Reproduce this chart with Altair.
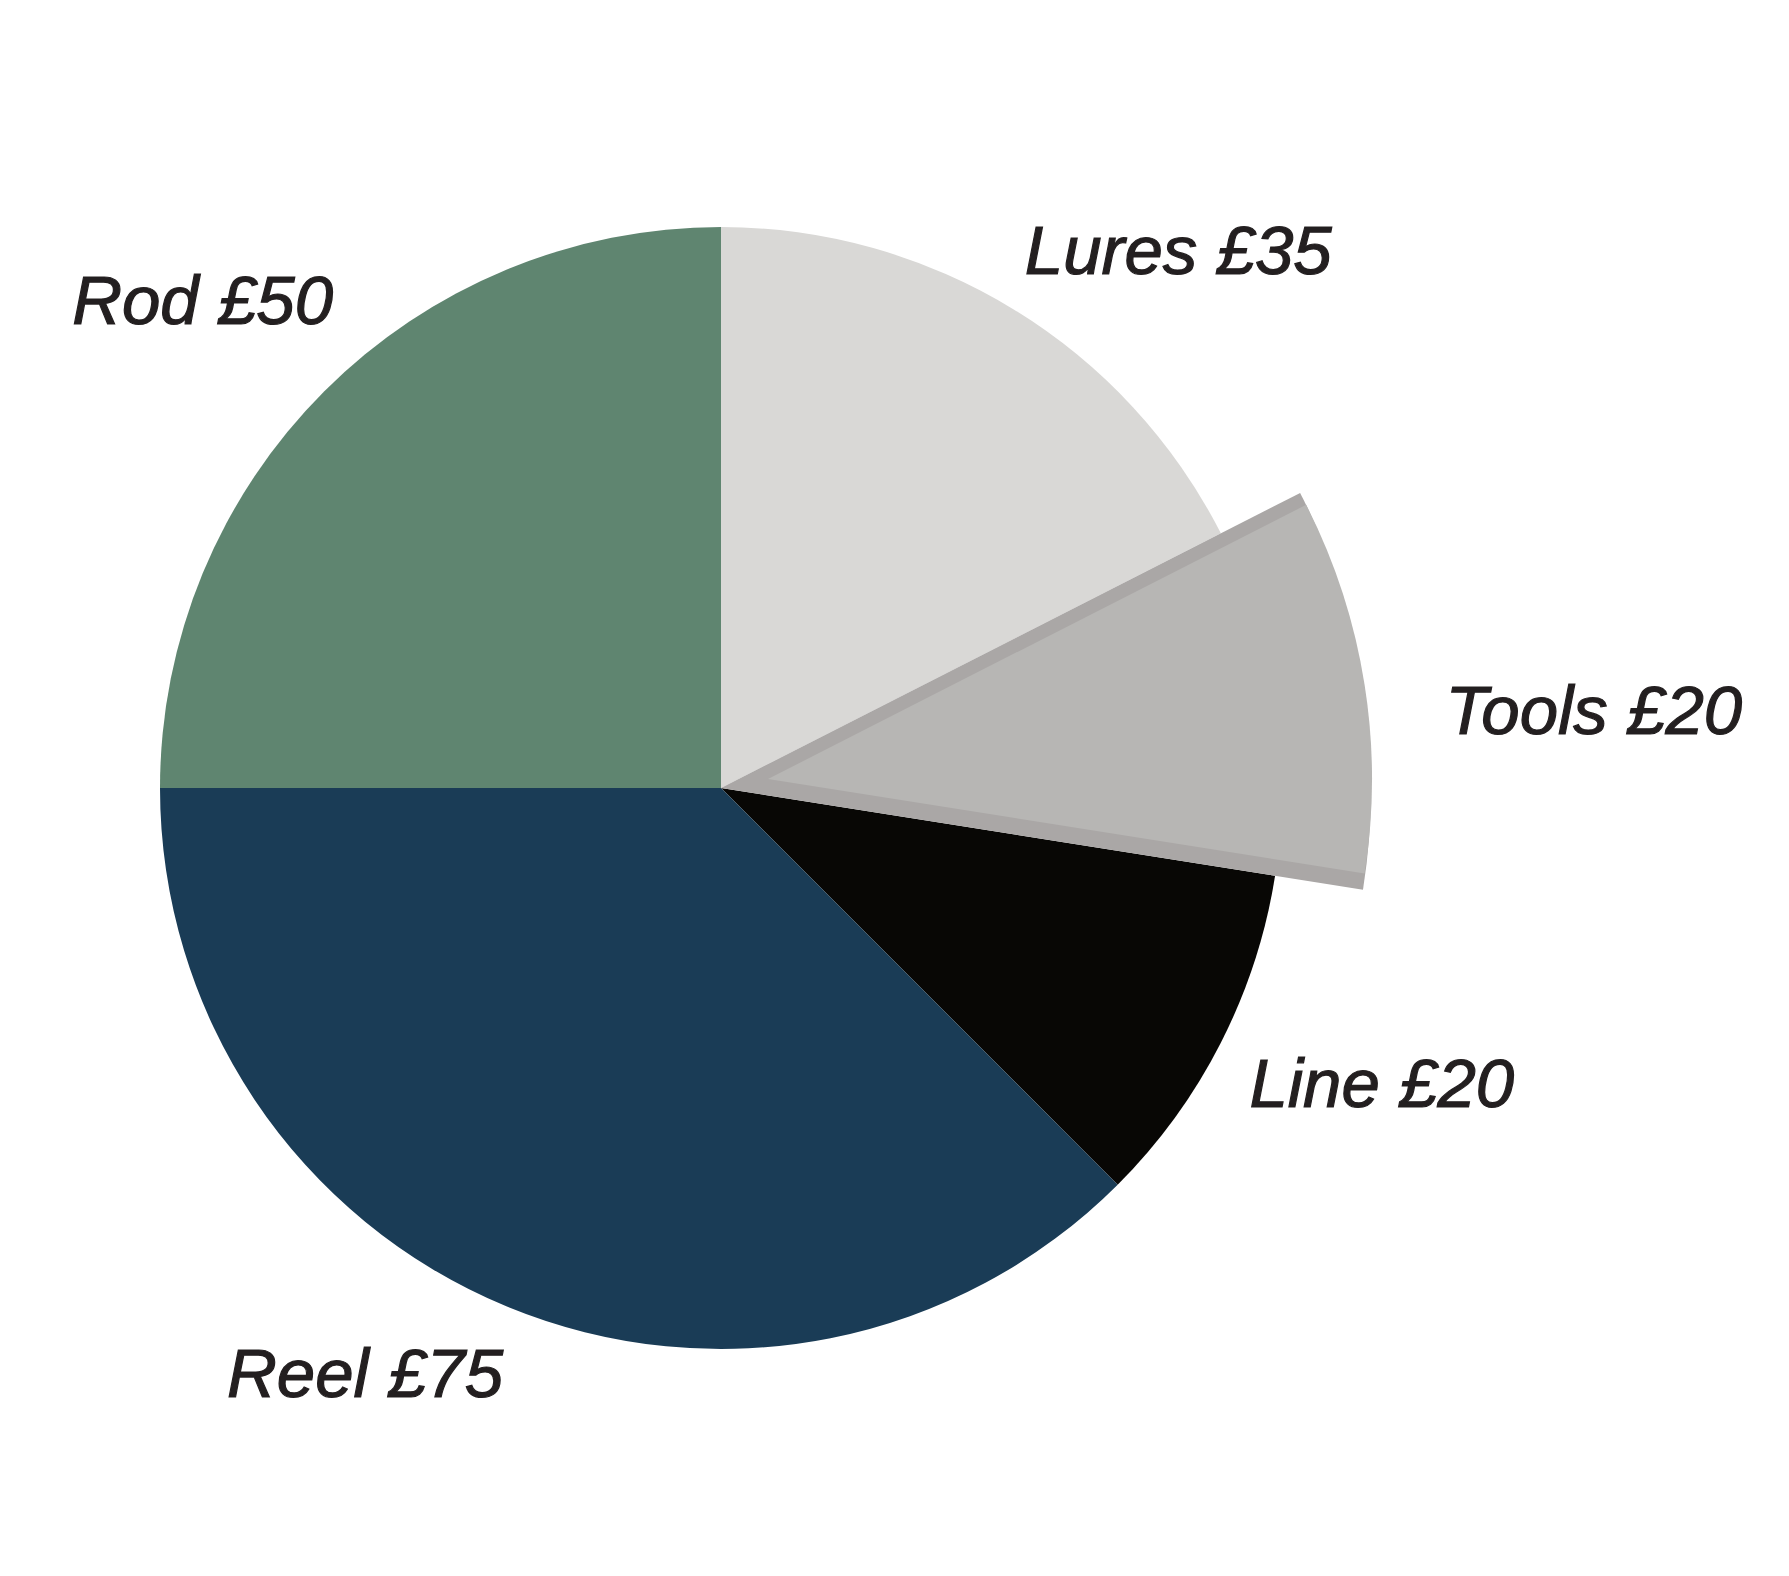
import altair as alt
import pandas as pd

categories = ["Lures", "Tools", "Line", "Reel", "Rod"]
values = [35, 20, 20, 75, 50]
labels = ["Lures £35", "Tools £20", "Line £20", "Reel £75", "Rod £50"]
colors = ["#d9d8d6", "#b7b6b4", "#080705", "#1a3c56", "#5f8570"]

df = pd.DataFrame({"category": categories, "value": values, "label": labels,
                   "order": list(range(len(categories)))})

CX, CY = 713, 780
R = 561
SHADOW_R = 650
EXPLODE_R = 604
EXPLODE_DX, EXPLODE_DY = 47, -9

# label placement (radius, angle nudge in degrees)
LABEL_POS = {"Lures": (704, 9.0), "Tools": (876, 4.1), "Line": (725, -2.7),
             "Reel": (687, 8.7), "Rod": (710, -1.9)}

rad_expr = "{" + ",".join(f"'{k}':{v[0]}" for k, v in LABEL_POS.items()) + "}"
nud_expr = "{" + ",".join(f"'{k}':{v[1]}" for k, v in LABEL_POS.items()) + "}"

base = (
    alt.Chart(df)
    .transform_window(cum="sum(value)", sort=[alt.SortField("order")])
    .transform_joinaggregate(total="sum(value)")
    .transform_calculate(
        t0="(datum.cum - datum.value) / datum.total * 2 * PI",
        t1="datum.cum / datum.total * 2 * PI",
    )
    .transform_calculate(
        mid="(datum.t0 + datum.t1) / 2 + " + nud_expr + "[datum.category] * PI / 180",
        lr=rad_expr + "[datum.category]",
    )
    .transform_calculate(
        lx=f"{CX} + datum.lr * sin(datum.mid)",
        ly=f"{CY} - datum.lr * cos(datum.mid)",
    )
)

color_scale = alt.Scale(domain=categories, range=colors)

main = base.transform_filter("datum.category != 'Tools'").mark_arc(outerRadius=R).encode(
    theta=alt.Theta("t0:Q", scale=None),
    theta2="t1:Q",
    x=alt.value(CX), y=alt.value(CY),
    color=alt.Color("category:N", scale=color_scale, legend=None),
)

shadow = base.transform_filter("datum.category == 'Tools'").mark_arc(
    outerRadius=SHADOW_R, color="#aaa7a6"
).encode(
    theta=alt.Theta("t0:Q", scale=None),
    theta2="t1:Q",
    x=alt.value(CX), y=alt.value(CY),
)

tools = base.transform_filter("datum.category == 'Tools'").mark_arc(
    outerRadius=EXPLODE_R
).encode(
    theta=alt.Theta("t0:Q", scale=None),
    theta2="t1:Q",
    x=alt.value(CX + EXPLODE_DX), y=alt.value(CY + EXPLODE_DY),
    color=alt.Color("category:N", scale=color_scale, legend=None),
)

text = base.mark_text(
    font="Liberation Sans", fontStyle="italic", fontSize=69, color="#231f20",
    stroke="#231f20", strokeWidth=1.2,
    align="center", baseline="middle",
).encode(
    x=alt.X("lx:Q", scale=None, axis=None),
    y=alt.Y("ly:Q", scale=None, axis=None),
    text="label:N",
)

chart = alt.layer(main, shadow, tools, text).properties(
    width=1773, height=1560, autosize=alt.AutoSizeParams(type="none"), padding=0,
    background="white",
).configure_view(stroke=None)

chart.save("out.html", embed_options={"renderer": "svg", "actions": False})
